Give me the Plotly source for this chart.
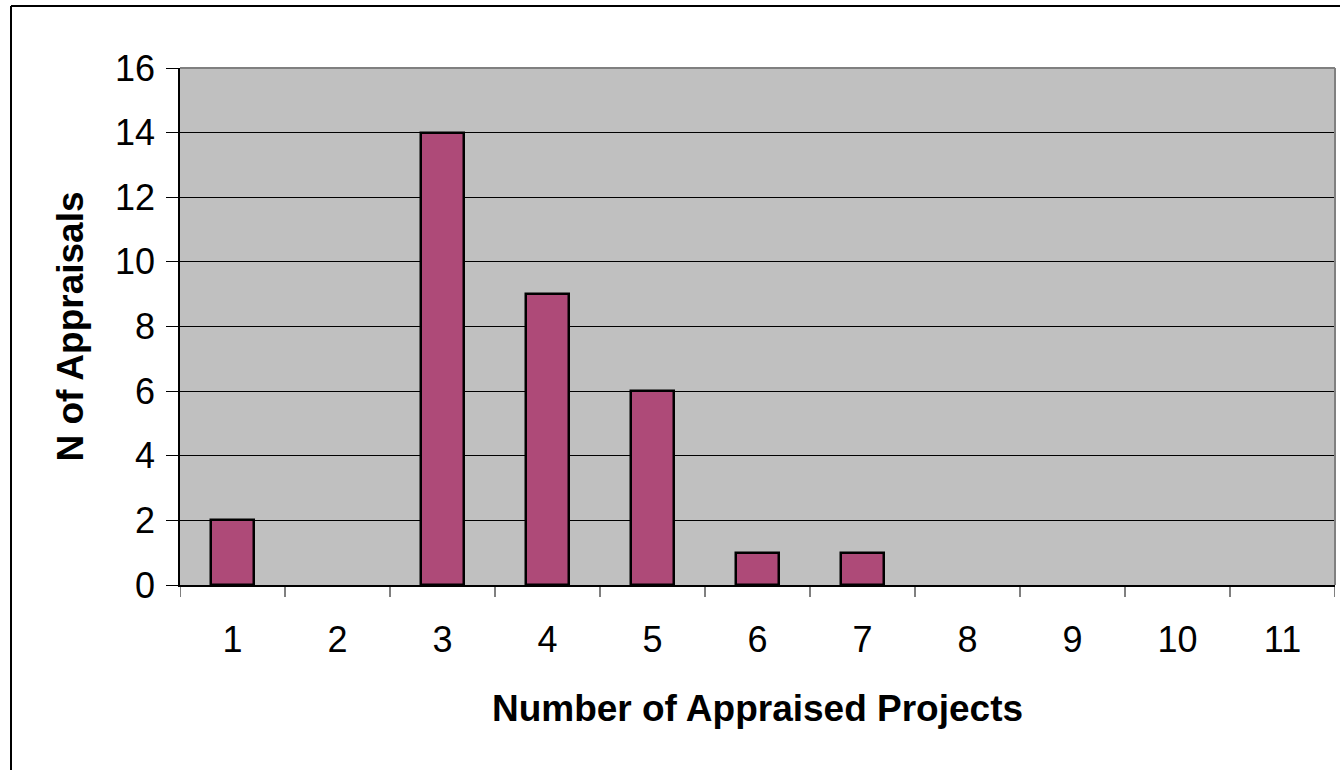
import plotly.graph_objects as go

categories = ["1", "2", "3", "4", "5", "6", "7", "8", "9", "10", "11"]
values = [2, 0, 14, 9, 6, 1, 1, 0, 0, 0, 0]
y_ticks = [0, 2, 4, 6, 8, 10, 12, 14, 16]

W, H = 1344, 770
L, R, T, B = 180, 1335, 68, 585

fig = go.Figure()
fig.add_trace(go.Bar(
    x=list(range(1, len(categories) + 1)),
    y=values,
    width=0.41,
    marker=dict(color="#AE4A78",
                line=dict(color="#000000", width=[2.5 if v > 0 else 0 for v in values])),
))

def px_x(p):
    return (p - L) / (R - L)

def px_y(p):
    return (B - p) / (B - T)

font = "Liberation Sans, Arial, sans-serif"
fig.update_layout(
    width=W, height=H,
    margin=dict(l=L, r=W - R, t=T, b=H - B, pad=0),
    paper_bgcolor="white",
    plot_bgcolor="#C0C0C0",
    showlegend=False,
    bargap=0,
    font=dict(family=font, size=36, color="black"),
    xaxis=dict(
        range=[0.5, 11.5],
        tickmode="array",
        tickvals=list(range(1, len(categories) + 1)),
        ticktext=categories,
        ticks="",
        showgrid=False,
        showline=True, linecolor="#000000", linewidth=1.5,
        zeroline=False,
        ticklabelstandoff=22,
        title=dict(text="<b>Number of Appraised Projects</b>", font=dict(size=37), standoff=36),
    ),
    yaxis=dict(
        range=[0, 16],
        tickmode="array",
        tickvals=y_ticks,
        ticks="outside", ticklen=12, tickcolor="#000000", tickwidth=1,
        showgrid=True, gridcolor="#000000", gridwidth=1,
        showline=True, linecolor="#000000", linewidth=1.5,
        zeroline=False,
        ticklabelstandoff=4,
        title=dict(text="<b>N of Appraisals</b>", font=dict(size=37), standoff=20),
    ),
)

# category boundary ticks on x axis
shapes = []
for i in range(len(categories) + 1):
    xv = 0.5 + i
    shapes.append(dict(type="line", xref="x", yref="paper", x0=xv, x1=xv,
                       y0=0, y1=px_y(B + 12), line=dict(color="#000000", width=1)))
# gray plot border top/right
shapes.append(dict(type="line", xref="paper", yref="paper", x0=0, x1=1, y0=1, y1=1,
                   line=dict(color="#808080", width=2)))
shapes.append(dict(type="line", xref="paper", yref="paper", x0=1, x1=1, y0=0, y1=1,
                   line=dict(color="#808080", width=2)))
# outer chart frame (left and top)
shapes.append(dict(type="line", xref="paper", yref="paper", x0=px_x(11), x1=px_x(11),
                   y0=px_y(6), y1=px_y(H + 5), line=dict(color="#000000", width=2)))
shapes.append(dict(type="line", xref="paper", yref="paper", x0=px_x(11), x1=px_x(1340),
                   y0=px_y(6), y1=px_y(6), line=dict(color="#000000", width=2)))
fig.update_layout(shapes=shapes)

fig.write_html("out.html", config={"displayModeBar": False},
               post_script="document.body.style.margin='0';")
